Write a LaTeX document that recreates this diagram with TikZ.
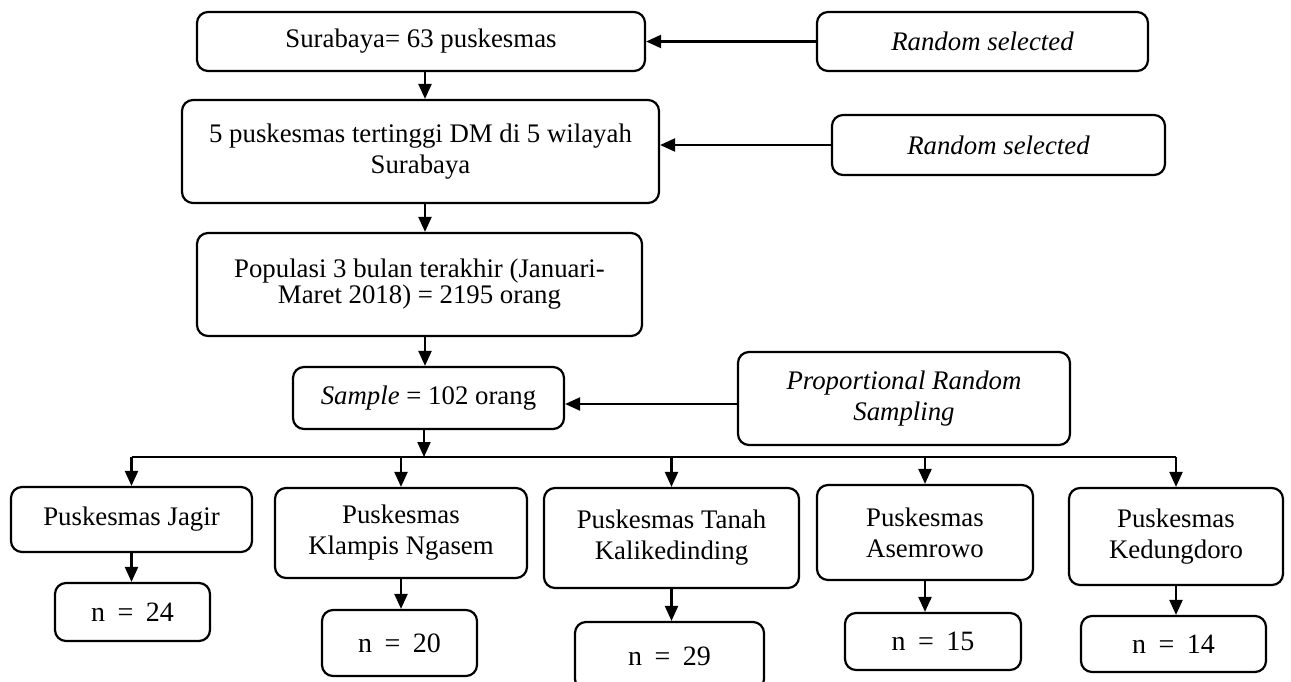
\documentclass[tikz,border=0pt]{standalone}
\usepackage{fontspec}
\setmainfont{Liberation Serif}
\usetikzlibrary{arrows.meta}
\begin{document}
\begin{tikzpicture}[x=1pt,y=-1pt,
  box/.style={draw, rounded corners=11pt, line width=2.2pt, align=center, inner sep=0pt,
    font=\fontsize{26.8}{31}\selectfont},
  nbox/.style={box, font=\fontsize{28}{32}\selectfont},
  arr/.style={-{Triangle[length=15pt,width=13pt]}, line width=2.2pt},
  ln/.style={line width=2.2pt}]
\path[use as bounding box, fill=white] (0,0) rectangle (1291,681);
\clip (0,0) rectangle (1291,681);
% main column
\node[box, minimum width=448pt, minimum height=59pt] (b1) at (421,41.5) {Surabaya= 63 puskesmas};
\node[box, minimum width=477pt, minimum height=103pt] (b2) at (420.5,151.5) {5 puskesmas tertinggi DM di 5 wilayah\\Surabaya};
\node[box, minimum width=445pt, minimum height=103pt, font=\fontsize{26.8}{26}\selectfont] (b3) at (419.5,284.5) {Populasi 3 bulan terakhir (Januari-\\Maret 2018) = 2195 orang};
\node[box, minimum width=271pt, minimum height=62pt] (smp) at (428.5,398) {\textit{Sample} = 102 orang};
% side boxes
\node[box, minimum width=331pt, minimum height=59pt] (rs1) at (982.5,41.5) {\textit{Random selected}};
\node[box, minimum width=333pt, minimum height=60pt] (rs2) at (998.5,145) {\textit{Random selected}};
\node[box, minimum width=332pt, minimum height=93pt] (prs) at (904,398.5) {\textit{Proportional Random}\\\textit{Sampling}};
% puskesmas
\node[box, minimum width=241pt, minimum height=65pt] (jag) at (131.5,519.5) {Puskesmas Jagir};
\node[box, minimum width=252pt, minimum height=90pt] (kla) at (401,533) {Puskesmas\\Klampis Ngasem};
\node[box, minimum width=255pt, minimum height=100pt] (tan) at (671.5,538) {Puskesmas Tanah\\Kalikedinding};
\node[box, minimum width=216pt, minimum height=95pt] (ase) at (925,532.5) {Puskesmas\\Asemrowo};
\node[box, minimum width=214pt, minimum height=97pt] (ked) at (1176,536.5) {Puskesmas\\Kedungdoro};
% n boxes
\node[nbox, minimum width=155pt, minimum height=58pt] (n24) at (132.5,612) {n\hspace{0.45em}=\hspace{0.45em}24};
\node[nbox, minimum width=155pt, minimum height=66pt] (n20) at (399.5,643) {n\hspace{0.45em}=\hspace{0.45em}20};
\node[nbox, minimum width=189pt, minimum height=68pt] (n29) at (669.5,656) {n\hspace{0.45em}=\hspace{0.45em}29};
\node[nbox, minimum width=176pt, minimum height=57pt] (n15) at (933,641.5) {n\hspace{0.45em}=\hspace{0.45em}15};
\node[nbox, minimum width=185pt, minimum height=56pt] (n14) at (1173.5,644) {n\hspace{0.45em}=\hspace{0.45em}14};
% main arrows
\coordinate (mx) at (425,0);
\draw[arr] (b1.south -| mx) -- (b2.north -| mx);
\draw[arr] (b2.south -| mx) -- (b3.north -| mx);
\draw[arr] (b3.south -| mx) -- (smp.north -| mx);
% side arrows
\draw[arr] (rs1.west) -- (b1.east);
\draw[arr] (rs2.west) -- (rs2.west -| b2.east);
\coordinate (py) at (0,404);
\draw[arr] (prs.west |- py) -- (smp.east |- py);
% bus
\coordinate (bus) at (424,457);
\draw[arr] (smp.south -| bus) -- (bus);
\draw[ln] (jag.north |- bus) -- (ked.north |- bus);
\foreach \b in {jag,kla,tan,ase,ked}{
  \draw[arr] (\b.north |- bus) -- (\b.north);
}
% down arrows
\draw[arr] (jag.south) -- (jag.south |- n24.north);
\draw[arr] (kla.south) -- (kla.south |- n20.north);
\draw[arr] (tan.south) -- (tan.south |- n29.north);
\draw[arr] (ase.south) -- (ase.south |- n15.north);
\draw[arr] (ked.south) -- (ked.south |- n14.north);
\end{tikzpicture}
\end{document}
